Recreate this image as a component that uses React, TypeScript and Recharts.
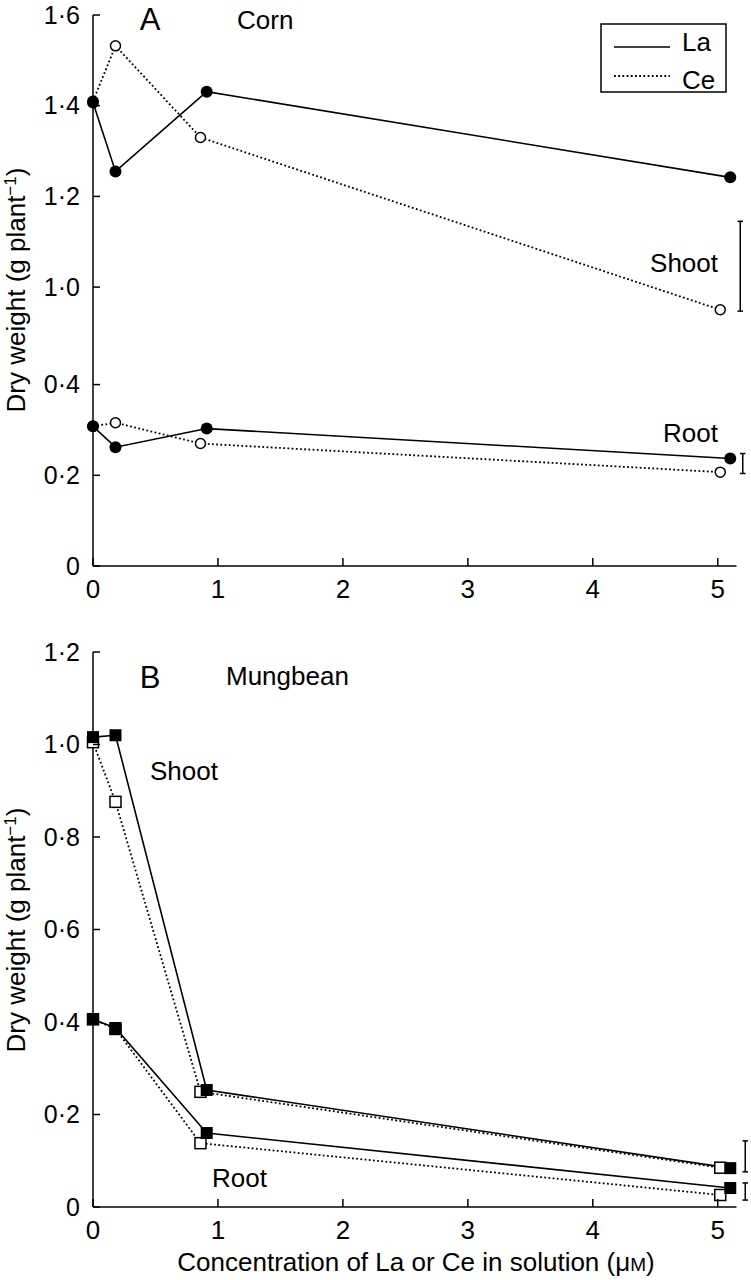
import { LineChart, Line, XAxis, YAxis, ReferenceLine } from 'recharts';

const FONT = '"Liberation Sans", Arial, Helvetica, sans-serif';

// concentration in solution (µM) for each element
const laConc = [0, 0.18, 0.91, 5.1];
const ceConc = [0, 0.18, 0.86, 5.02];

// A - corn, dry weight (g per plant)
const cornShootLa = [1.407, 1.255, 1.431, 1.242];
const cornShootCe = [1.41, 1.532, 1.33, 0.95];
const cornRootLa = [0.308, 0.262, 0.303, 0.237];
const cornRootCe = [0.308, 0.316, 0.27, 0.207];

// B - mungbean, dry weight (g per plant)
const mungShootLa = [1.016, 1.02, 0.253, 0.084];
const mungShootCe = [1.005, 0.876, 0.249, 0.085];
const mungRootLa = [0.406, 0.387, 0.16, 0.041];
const mungRootCe = [0.406, 0.385, 0.138, 0.026];

// LSD bars: [x, low, high]
const cornShootLsd = [5.18, 0.947, 1.145];
const cornRootLsd = [5.2, 0.204, 0.248];
const mungShootLsd = [5.22, 0.076, 0.143];
const mungRootLsd = [5.22, 0.015, 0.052];

const xTicks = [0, 1, 2, 3, 4, 5];
const cornYTicks = [0, 0.2, 0.4, 1.0, 1.2, 1.4, 1.6];
const mungYTicks = [0, 0.2, 0.4, 0.6, 0.8, 1.0, 1.2];

// corn axis is broken between 0.4 and 1.0
const BREAK_SHIFT = 0.385;
const brk = (v: number) => (v > 0.7 ? v - BREAK_SHIFT : v);
const unbrk = (v: number) => (v > 0.5 ? v + BREAK_SHIFT : v);
const same = (v: number) => v;

const CAP = 0.022; // half cap width, in x units

const toPts = (xs: number[], ys: number[], f = same) => xs.map((x, i) => ({ x, y: f(ys[i]) }));

function fmt(v: number): string {
  if (Math.abs(v) < 1e-6) return '0';
  return v.toFixed(1).replace('.', '·');
}

function YTick({ x, y, payload, broken }: any) {
  const v = broken ? unbrk(payload.value) : payload.value;
  return (
    <g>
      <line x1={x} x2={x + 7} y1={y} y2={y} stroke="#000" strokeWidth={1.5} />
      <text x={x - 13} y={y} dy="0.34em" textAnchor="end" fontSize={25} fontFamily={FONT} fill="#000">
        {fmt(v)}
      </text>
    </g>
  );
}

function XTick({ x, y, payload }: any) {
  return (
    <g>
      <line x1={x} x2={x} y1={y} y2={y - 8} stroke="#000" strokeWidth={1.5} />
      <text x={x} y={y + 32} textAnchor="middle" fontSize={26} fontFamily={FONT} fill="#000">
        {payload.value}
      </text>
    </g>
  );
}

const filledCircle = (p: any) => <circle key={p.index} cx={p.cx} cy={p.cy} r={6} fill="#000" />;
const openCircle = (p: any) => (
  <circle key={p.index} cx={p.cx} cy={p.cy} r={5} fill="#fff" stroke="#000" strokeWidth={1.5} />
);
const filledSquare = (p: any) => (
  <rect key={p.index} x={p.cx - 6} y={p.cy - 6} width={12} height={12} fill="#000" />
);
const openSquare = (p: any) => (
  <rect key={p.index} x={p.cx - 5.5} y={p.cy - 5.5} width={11} height={11} fill="#fff" stroke="#000" strokeWidth={1.5} />
);

const solid = { stroke: '#000', strokeWidth: 1.6 };
const dotted = { stroke: '#000', strokeWidth: 1.8, strokeDasharray: '1.8 2.4' };

// vertical LSD bar with small caps, drawn in data coordinates
function lsdLines([x, lo, hi]: number[], f = same) {
  const segs = [
    [{ x, y: f(lo) }, { x, y: f(hi) }],
    [{ x: x - CAP, y: f(lo) }, { x: x + CAP, y: f(lo) }],
    [{ x: x - CAP, y: f(hi) }, { x: x + CAP, y: f(hi) }],
  ];
  return segs.map((s, i) => (
    <ReferenceLine key={`${x}-${lo}-${i}`} segment={s} stroke="#000" strokeWidth={1.5} ifOverflow="visible" />
  ));
}

function CornChart() {
  return (
    <LineChart width={751} height={620} margin={{ top: 15, right: 2, bottom: 14, left: 33 }}>
      <XAxis
        type="number"
        dataKey="x"
        domain={[0, 5.25]}
        ticks={xTicks}
        interval={0}
        axisLine={false}
        tickLine={false}
        tickSize={0}
        tickMargin={0}
        height={40}
        tick={<XTick />}
      />
      <YAxis
        type="number"
        domain={[0, brk(1.6)]}
        ticks={cornYTicks.map(brk)}
        interval={0}
        width={60}
        axisLine={{ stroke: '#000', strokeWidth: 1.5 }}
        tickLine={false}
        tickSize={0}
        tickMargin={0}
        tick={<YTick broken />}
      />
      <ReferenceLine segment={[{ x: 0, y: 0 }, { x: 5.15, y: 0 }]} stroke="#000" strokeWidth={1.5} ifOverflow="visible" />
      {lsdLines(cornShootLsd, brk)}
      {lsdLines(cornRootLsd)}
      <Line data={toPts(ceConc, cornShootCe, brk)} dataKey="y" {...dotted} dot={openCircle} isAnimationActive={false} />
      <Line data={toPts(ceConc, cornRootCe)} dataKey="y" {...dotted} dot={openCircle} isAnimationActive={false} />
      <Line data={toPts(laConc, cornShootLa, brk)} dataKey="y" {...solid} dot={filledCircle} isAnimationActive={false} />
      <Line data={toPts(laConc, cornRootLa)} dataKey="y" {...solid} dot={filledCircle} isAnimationActive={false} />
    </LineChart>
  );
}

function MungChart() {
  return (
    <LineChart width={751} height={660} margin={{ top: 32, right: 2, bottom: 33, left: 33 }}>
      <XAxis
        type="number"
        dataKey="x"
        domain={[0, 5.25]}
        ticks={xTicks}
        interval={0}
        axisLine={false}
        tickLine={false}
        tickSize={0}
        tickMargin={0}
        height={40}
        tick={<XTick />}
      />
      <YAxis
        type="number"
        domain={[0, 1.2]}
        ticks={mungYTicks}
        interval={0}
        width={60}
        axisLine={{ stroke: '#000', strokeWidth: 1.5 }}
        tickLine={false}
        tickSize={0}
        tickMargin={0}
        tick={<YTick />}
      />
      <ReferenceLine segment={[{ x: 0, y: 0 }, { x: 5.15, y: 0 }]} stroke="#000" strokeWidth={1.5} ifOverflow="visible" />
      {lsdLines(mungShootLsd)}
      {lsdLines(mungRootLsd)}
      <Line data={toPts(ceConc, mungShootCe)} dataKey="y" {...dotted} dot={openSquare} isAnimationActive={false} />
      <Line data={toPts(ceConc, mungRootCe)} dataKey="y" {...dotted} dot={openSquare} isAnimationActive={false} />
      <Line data={toPts(laConc, mungShootLa)} dataKey="y" {...solid} dot={filledSquare} isAnimationActive={false} />
      <Line data={toPts(laConc, mungRootLa)} dataKey="y" {...solid} dot={filledSquare} isAnimationActive={false} />
    </LineChart>
  );
}

function YTitle({ cy }: { cy: number }) {
  return (
    <text x={25} y={cy} transform={`rotate(-90 25 ${cy})`} textAnchor="middle" fontSize={26}>
      Dry weight (g plant
      <tspan dy={-9} fontSize={17}>−1</tspan>
      <tspan dy={9}>)</tspan>
    </text>
  );
}

export default function App() {
  return (
    <div style={{ position: 'absolute', left: 0, top: 0, width: 751, height: 1280, background: '#fff', fontFamily: FONT }}>
      <div style={{ position: 'absolute', left: 0, top: 0 }}>
        <CornChart />
      </div>
      <div style={{ position: 'absolute', left: 0, top: 620 }}>
        <MungChart />
      </div>
      <svg width={751} height={1280} style={{ position: 'absolute', left: 0, top: 0, pointerEvents: 'none' }} fontFamily={FONT} fill="#000">
        <text x={150} y={30} textAnchor="middle" fontSize={31}>A</text>
        <text x={237} y={29} fontSize={26}>Corn</text>
        <text x={718} y={272} textAnchor="end" fontSize={26}>Shoot</text>
        <text x={718} y={442} textAnchor="end" fontSize={26}>Root</text>

        <rect x={601} y={24} width={125} height={68} fill="#fff" stroke="#000" strokeWidth={1.5} />
        <line x1={614} x2={670} y1={47} y2={47} {...solid} />
        <text x={682} y={51} fontSize={26}>La</text>
        <line x1={614} x2={670} y1={76} y2={76} {...dotted} />
        <text x={682} y={89} fontSize={26}>Ce</text>

        <text x={150} y={688} textAnchor="middle" fontSize={31}>B</text>
        <text x={226} y={685} fontSize={26}>Mungbean</text>
        <text x={150} y={780} fontSize={26}>Shoot</text>
        <text x={212} y={1187} fontSize={26}>Root</text>

        <YTitle cy={290} />
        <YTitle cy={930} />
        <text x={416} y={1271} textAnchor="middle" fontSize={26}>
          Concentration of La or Ce in solution (μ<tspan fontSize={19}>M</tspan>)
        </text>
      </svg>
    </div>
  );
}
